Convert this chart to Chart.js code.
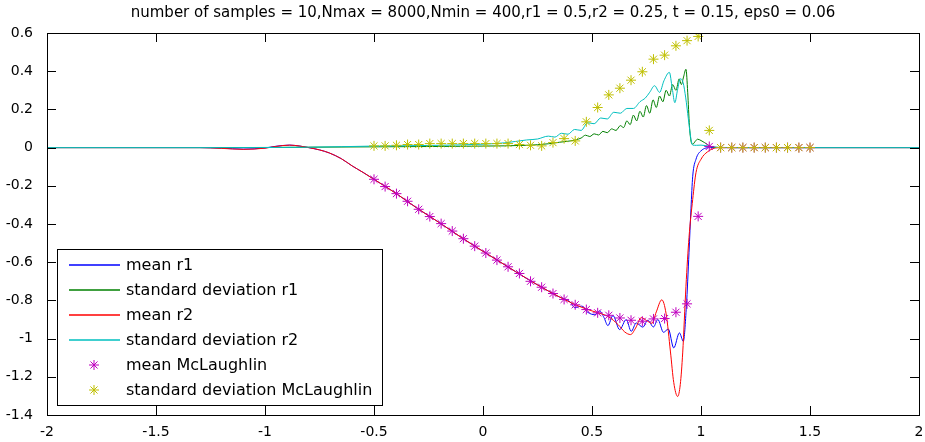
<!DOCTYPE html>
<html>
<head>
<meta charset="utf-8">
<script src="https://cdn.jsdelivr.net/npm/chart.js@4/dist/chart.umd.min.js"></script>
<style>
  body { margin: 0; background: #fff; }
  canvas { display: block; }
</style>
</head>
<body>
<canvas id="plot" width="925" height="442"></canvas>
<script>
// tick labels
const xTicks = [-2, -1.5, -1, -0.5, 0, 0.5, 1, 1.5, 2];
const yTicks = [-1.4, -1.2, -1, -0.8, -0.6, -0.4, -0.2, 0, 0.2, 0.4, 0.6];

// mean r1
const meanR1X = [-2, -1.3, -1.2, -1.1, -1.0, -0.95, -0.887, -0.84, -0.8, -0.75, -0.705, -0.65, -0.6, -0.55, -0.5,
  -0.4, -0.3, -0.2, -0.1, 0, 0.1, 0.2, 0.3, 0.35, 0.4, 0.421, 0.452, 0.48, 0.513, 0.535, 0.555, 0.573, 0.596,
  0.627, 0.657, 0.68, 0.703, 0.733, 0.756, 0.782, 0.802, 0.828, 0.85, 0.875, 0.901, 0.919, 0.933, 0.945, 0.954,
  0.962, 0.977, 1.0, 1.045, 1.1, 2];
const meanR1Y = [0, 0, -0.003, -0.008, -0.002, 0.007, 0.013, 0.008, 0, -0.012, -0.028, -0.058, -0.096, -0.13, -0.166,
  -0.239, -0.319, -0.393, -0.47, -0.543, -0.614, -0.685, -0.751, -0.782, -0.808, -0.838, -0.83, -0.862, -0.875, -0.855,
  -0.89, -0.932, -0.879, -0.953, -0.9, -0.962, -0.918, -0.94, -0.904, -0.939, -0.9, -0.967, -0.95, -1.049, -0.97,
  -1.014, -0.83, -0.55, -0.32, -0.15, -0.061, -0.017, 0, 0, 0];

// standard deviation r1
const stdR1X = [-2, -1.2, -0.8, -0.5, -0.2, 0, 0.2, 0.3, 0.35, 0.4, 0.45, 0.47, 0.49, 0.51, 0.53, 0.55, 0.57, 0.59,
  0.61, 0.63, 0.645, 0.66, 0.675, 0.69, 0.705, 0.72, 0.735, 0.75, 0.765, 0.78, 0.795, 0.81, 0.825, 0.84, 0.855, 0.87,
  0.885, 0.9, 0.91, 0.92, 0.931, 0.939, 0.947, 0.954, 0.962, 0.975, 0.984, 1.0, 1.015, 1.045, 1.08, 1.2, 2];
const stdR1Y = [0, 0, 0.002, 0.004, 0.006, 0.008, 0.012, 0.02, 0.028, 0.035, 0.05, 0.065, 0.058, 0.072, 0.066, 0.085,
  0.078, 0.098, 0.09, 0.115, 0.105, 0.14, 0.12, 0.17, 0.14, 0.19, 0.16, 0.22, 0.18, 0.25, 0.21, 0.27, 0.24, 0.30, 0.27,
  0.33, 0.30, 0.36, 0.33, 0.37, 0.41, 0.29, 0.114, 0.035, 0.018, 0.035, 0.044, 0.037, 0.027, 0.006, 0.001, 0, 0];

// mean r2
const meanR2X = [-2, -1.3, -1.2, -1.1, -1.0, -0.95, -0.887, -0.84, -0.8, -0.75, -0.705, -0.65, -0.6, -0.55, -0.5,
  -0.4, -0.3, -0.2, -0.1, 0, 0.1, 0.2, 0.3, 0.4, 0.45, 0.5, 0.55, 0.575, 0.62, 0.65, 0.677, 0.70, 0.726, 0.75, 0.775,
  0.795, 0.82, 0.84, 0.86, 0.875, 0.893, 0.905, 0.916, 0.931, 0.945, 0.962, 0.977, 1.0, 1.03, 1.076, 1.15, 2];
const meanR2Y = [0, 0, -0.004, -0.009, -0.003, 0.006, 0.013, 0.008, 0, -0.012, -0.028, -0.058, -0.096, -0.13, -0.166,
  -0.239, -0.319, -0.393, -0.47, -0.543, -0.614, -0.685, -0.751, -0.81, -0.835, -0.855, -0.873, -0.885, -0.927, -0.965,
  -0.979, -0.945, -0.89, -0.905, -0.92, -0.86, -0.797, -0.87, -1.07, -1.23, -1.303, -1.24, -1.075, -0.726, -0.47,
  -0.271, -0.131, -0.061, -0.022, 0, 0, 0];

// standard deviation r2
const stdR2X = [-2, -1.2, -0.8, -0.5, -0.2, 0, 0.1, 0.2, 0.25, 0.3, 0.33, 0.36, 0.39, 0.42, 0.45, 0.48, 0.51, 0.54,
  0.57, 0.6, 0.63, 0.66, 0.69, 0.72, 0.745, 0.765, 0.787, 0.81, 0.83, 0.855, 0.868, 0.88, 0.892, 0.905, 0.918, 0.93,
  0.942, 0.954, 0.962, 0.98, 1.0, 1.045, 1.08, 1.2, 2];
const stdR2Y = [0, 0, 0.002, 0.008, 0.012, 0.018, 0.025, 0.04, 0.045, 0.06, 0.055, 0.075, 0.07, 0.095, 0.09, 0.13,
  0.125, 0.155, 0.15, 0.185, 0.18, 0.205, 0.205, 0.24, 0.26, 0.29, 0.324, 0.289, 0.35, 0.394, 0.31, 0.235, 0.3, 0.36,
  0.34, 0.26, 0.15, 0.044, 0.013, 0.012, 0.013, 0.006, 0.001, 0, 0];

// McLaughlin samples
const mcX = [-0.5, -0.449, -0.397, -0.346, -0.295, -0.244, -0.192, -0.141, -0.09, -0.038, 0.013, 0.064, 0.115,
  0.167, 0.218, 0.269, 0.321, 0.372, 0.423, 0.474, 0.526, 0.577, 0.628, 0.679, 0.731, 0.782, 0.833, 0.885, 0.936,
  0.987, 1.038, 1.09, 1.141, 1.192, 1.244, 1.295, 1.346, 1.397, 1.449, 1.5];
const mcMean = [-0.166, -0.204, -0.241, -0.281, -0.323, -0.361, -0.398, -0.437, -0.477, -0.516,
  -0.552, -0.589, -0.624, -0.659, -0.700, -0.731, -0.764, -0.795, -0.823, -0.848,
  -0.865, -0.878, -0.892, -0.904, -0.909, -0.897, -0.895, -0.862, -0.818, -0.36,
  0.006, 0, 0, 0, 0, 0, 0, 0, 0, 0];
const mcStd = [0.009, 0.009, 0.012, 0.016, 0.016, 0.021, 0.021, 0.021, 0.021, 0.021,
  0.021, 0.021, 0.021, 0.016, 0.012, 0.009, 0.026, 0.047, 0.035, 0.135,
  0.21, 0.276, 0.311, 0.353, 0.397, 0.463, 0.484, 0.533, 0.56, 0.582,
  0.09, 0, 0, 0, 0, 0, 0, 0, 0, 0];

const titleText = "number of samples = 10,Nmax = 8000,Nmin = 400,r1 = 0.5,r2 = 0.25, t = 0.15, eps0 = 0.06";
const fontFamily = "'DejaVu Sans', sans-serif";

function pts(xs, ys) {
  return xs.map((x, i) => ({ x: x, y: ys[i] }));
}

function lineSet(label, xs, ys, color, order) {
  return {
    label: label,
    data: pts(xs, ys),
    borderColor: color,
    backgroundColor: color,
    borderWidth: 1,
    pointRadius: 0,
    cubicInterpolationMode: "monotone",
    order: order,
  };
}

function starSet(label, xs, ys, color, order) {
  return {
    label: label,
    data: pts(xs, ys),
    showLine: false,
    borderColor: color,
    backgroundColor: color,
    borderWidth: 1,
    pointStyle: "star",
    pointRadius: 5,
    order: order,
  };
}

// axes box, inward ticks, title and legend in the MATLAB way
const matlabFrame = {
  id: "matlabFrame",
  afterDatasetsDraw(chart) {
    const { ctx, chartArea: a, scales } = chart;
    ctx.save();
    ctx.strokeStyle = "#000";
    ctx.lineWidth = 1;
    ctx.strokeRect(Math.round(a.left) + 0.5, Math.round(a.top) + 0.5,
      Math.round(a.right - a.left), Math.round(a.bottom - a.top));
    const tl = 9;
    ctx.beginPath();
    scales.x.ticks.forEach((t) => {
      const px = Math.round(scales.x.getPixelForValue(t.value)) + 0.5;
      ctx.moveTo(px, a.bottom); ctx.lineTo(px, a.bottom - tl);
      ctx.moveTo(px, a.top); ctx.lineTo(px, a.top + tl);
    });
    scales.y.ticks.forEach((t) => {
      const py = Math.round(scales.y.getPixelForValue(t.value)) + 0.5;
      ctx.moveTo(a.left, py); ctx.lineTo(a.left + tl, py);
      ctx.moveTo(a.right, py); ctx.lineTo(a.right - tl, py);
    });
    ctx.stroke();

    // title
    ctx.fillStyle = "#000";
    ctx.font = "15px " + fontFamily;
    ctx.textAlign = "center";
    ctx.textBaseline = "middle";
    ctx.fillText(titleText, (a.left + a.right) / 2, 13);

    // legend
    const lx = 57, ly = 249, lw = 325, lh = 156;
    ctx.fillStyle = "#fff";
    ctx.fillRect(lx, ly, lw, lh);
    ctx.strokeStyle = "#000";
    ctx.strokeRect(lx + 0.5, ly + 0.5, lw, lh);
    ctx.font = "16px " + fontFamily;
    ctx.textAlign = "left";
    chart.data.datasets.forEach((ds, i) => {
      const y = ly + 16 + i * 25;
      ctx.strokeStyle = ds.borderColor;
      if (ds.showLine === false) {
        ctx.lineWidth = 1;
        Chart.helpers.drawPoint(ctx, { pointStyle: "star", radius: 5, borderWidth: 1 }, 94, y);
      } else {
        ctx.lineWidth = 1.5;
        ctx.beginPath();
        ctx.moveTo(69, y);
        ctx.lineTo(120, y);
        ctx.stroke();
      }
      ctx.fillStyle = "#000";
      ctx.fillText(ds.label, 126, y + 1);
    });
    ctx.restore();
  },
};

const tickFont = { family: fontFamily, size: 14 };

new Chart(document.getElementById("plot"), {
  type: "line",
  data: {
    datasets: [
      lineSet("mean r1", meanR1X, meanR1Y, "#0000ff", 6),
      lineSet("standard deviation r1", stdR1X, stdR1Y, "#008000", 5),
      lineSet("mean r2", meanR2X, meanR2Y, "#ff0000", 4),
      lineSet("standard deviation r2", stdR2X, stdR2Y, "#00bfbf", 3),
      starSet("mean McLaughlin", mcX, mcMean, "#bf00bf", 2),
      starSet("standard deviation McLaughlin", mcX, mcStd, "#bfbf00", 1),
    ],
  },
  options: {
    responsive: false,
    devicePixelRatio: 1,
    animation: false,
    layout: { padding: { left: 0, right: 3, top: 33, bottom: 0 } },
    plugins: {
      legend: { display: false },
      title: { display: false },
      tooltip: { enabled: false },
    },
    scales: {
      x: {
        type: "linear",
        min: -2,
        max: 2,
        afterBuildTicks: (scale) => { scale.ticks = xTicks.map((v) => ({ value: v })); },
        afterFit: (scale) => { scale.height = 27; scale.paddingRight = 0; scale.paddingLeft = 0; },
        grid: { display: false },
        border: { display: false },
        ticks: { color: "#000", font: tickFont, padding: 1, maxRotation: 0, callback: (v) => String(v) },
      },
      y: {
        min: -1.4,
        max: 0.6,
        afterBuildTicks: (scale) => { scale.ticks = yTicks.map((v) => ({ value: v })); },
        afterFit: (scale) => { scale.width = 47; },
        grid: { display: false },
        border: { display: false },
        ticks: { color: "#000", font: tickFont, padding: 6, callback: (v) => String(v) },
      },
    },
  },
  plugins: [matlabFrame],
});
</script>
</body>
</html>
